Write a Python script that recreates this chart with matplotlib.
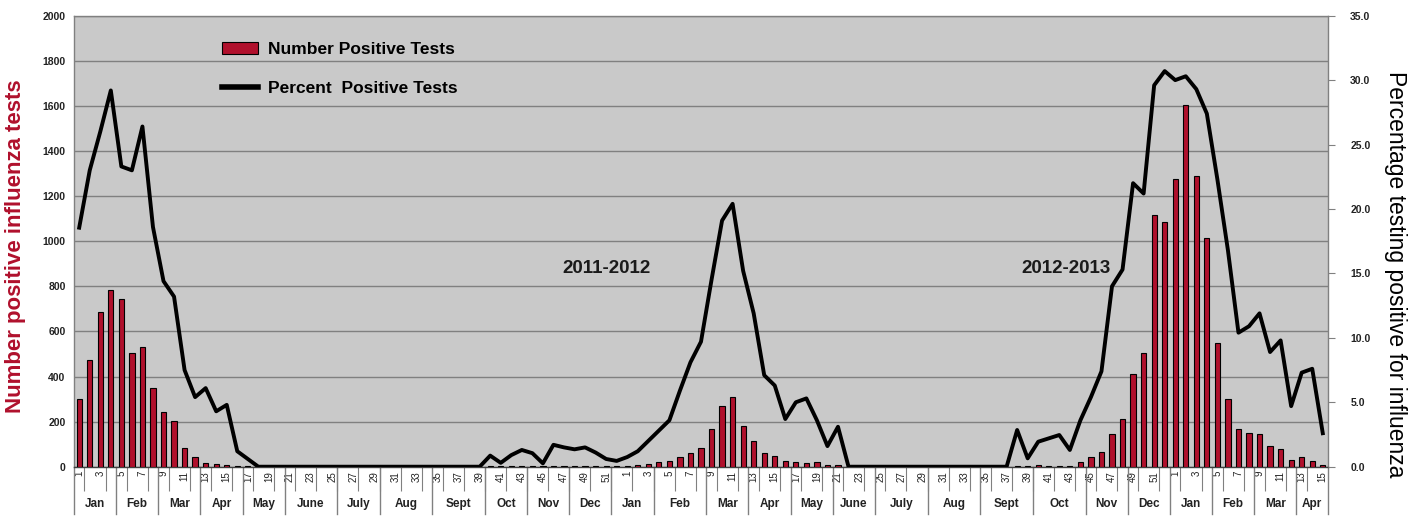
import numpy as np
import matplotlib
matplotlib.use("Agg")
import matplotlib.pyplot as plt
from matplotlib.patches import Patch
from matplotlib.lines import Line2D
import matplotlib.transforms as mtransforms

plt.rcParams['font.family'] = ['Liberation Sans', 'DejaVu Sans']

# ---------------- data ----------------
# week numbers: 2011 wk1-52, 2012 wk1-52, 2013 wk1-15
weeks = list(range(1, 53)) + list(range(1, 53)) + list(range(1, 16))

counts_2011 = [300, 473, 688, 784, 744, 506, 530, 348, 241, 203, 82, 44, 15, 10, 8, 5, 3] \
    + [0] * 22 \
    + [3, 2, 3, 4, 3, 2, 4, 5, 4, 5, 4, 3, 5]
counts_2012 = [5, 6, 10] \
    + [23, 24, 44, 59, 82, 167, 267, 308, 179, 116, 59, 49, 27, 19, 15, 19, 9, 9] \
    + [0] * 16 \
    + [3, 4, 6, 5, 4, 3] \
    + [19, 42, 67, 145, 212, 411, 503, 1117, 1083]
counts_2013 = [1275, 1605, 1287, 1016, 550, 299, 167, 151, 145, 93, 77, 30, 42, 27, 8]
counts = counts_2011 + counts_2012 + counts_2013

pct_2011 = [18.55, 23.0, 26.0, 29.2, 23.3, 23.0, 26.4, 18.6, 14.4, 13.2, 7.5, 5.4, 6.1, 4.3, 4.8, 1.2, 0.6] \
    + [0.0] * 22 \
    + [0.86, 0.3, 0.9, 1.3, 1.05, 0.26, 1.7, 1.5, 1.35, 1.5, 1.1, 0.6, 0.45]
pct_2012 = [0.75, 1.2, 2.0, 2.8, 3.6, 5.9, 8.1, 9.7, 14.5, 19.1, 20.4, 15.2, 11.9, 7.1, 6.3, 3.7,
            5.0, 5.3, 3.6, 1.6, 3.1] \
    + [0.0] * 16 \
    + [2.85, 0.65, 1.94, 2.2, 2.46, 1.3, 3.6, 5.4, 7.4, 14.0, 15.3, 22.0, 21.2, 29.6, 30.7]
pct_2013 = [30.0, 30.3, 29.3, 27.4, 22.3, 16.8, 10.4, 10.9, 11.9, 8.9, 9.8, 4.7, 7.3, 7.6, 2.6]
pct = pct_2011 + pct_2012 + pct_2013

months = ['Jan', 'Feb', 'Mar', 'Apr', 'May', 'June', 'July', 'Aug', 'Sept', 'Oct', 'Nov', 'Dec',
          'Jan', 'Feb', 'Mar', 'Apr', 'May', 'June', 'July', 'Aug', 'Sept', 'Oct', 'Nov', 'Dec',
          'Jan', 'Feb', 'Mar', 'Apr']
month_weeks = [4, 4, 4, 4, 4, 5, 4, 5, 5, 4, 4, 4,
               4, 5, 4, 4, 4, 4, 5, 5, 5, 5, 4, 4,
               4, 4, 4, 3]

season_labels = ['2011-2012', '2012-2013']
season_pos = [(50.0, 880), (93.6, 880)]

left_ticks = list(range(0, 2001, 200))
right_ticks = [0, 5, 10, 15, 20, 25, 30, 35]

# ---------------- figure ----------------
BG = '#c9c9c9'
GRID = '#808080'
RED = '#b0102c'

fig = plt.figure(figsize=(14.19, 5.21), dpi=100)
ax = fig.add_axes([0.0521, 0.1042, 0.8838, 0.8657])
ax.set_facecolor(BG)

n = len(counts)
x = np.arange(n)
ax.bar(x, counts, width=0.5, color=RED, edgecolor='black', linewidth=0.8, zorder=3)
ax.set_xlim(-0.5, n - 0.5)
ax.set_ylim(0, 2000)
ax.set_yticks(left_ticks)
ax.set_yticklabels([str(v) for v in left_ticks], fontsize=7.5, fontweight='bold', color='#222222')
ax.yaxis.grid(True, color=GRID, linewidth=1.0, zorder=1)
ax.set_axisbelow(True)
ax.tick_params(axis='y', length=0, pad=6)

for sp in ax.spines.values():
    sp.set_color(GRID)
    sp.set_linewidth(1.0)
ax.spines['bottom'].set_color('#404040')

# x tick labels (odd week numbers)
ax.set_xticks(x[::2])
ax.set_xticklabels([str(weeks[i]) for i in x[::2]], rotation=90, fontsize=7, color='#222222')
ax.tick_params(axis='x', which='major', length=0, pad=3)
ax.set_xticks(np.arange(0.5, n - 0.5, 2), minor=True)
ax.tick_params(axis='x', which='minor', length=17, width=0.8, color=GRID)

# month labels & separators
trans = mtransforms.blended_transform_factory(ax.transData, ax.transAxes)
start = -0.5
bounds = [start]
for mw in month_weeks:
    bounds.append(bounds[-1] + mw)
for i, m in enumerate(months):
    a, b = bounds[i], bounds[i + 1]
    ax.text((a + b) / 2, -0.082, m, transform=trans, ha='center', va='center',
            fontsize=8.5, fontweight='bold', color='#222222')
for bnd in bounds:
    ax.plot([bnd, bnd], [0, -0.105], transform=trans, color=GRID, lw=1.0, clip_on=False)

ax.set_ylabel('Number positive influenza tests', color=RED, fontsize=16, fontweight='bold')
ax.yaxis.set_label_coords(-0.0383, 0.489)

# percent line
ax2 = ax.twinx()
ax2.plot(x, pct, color='black', lw=2.8, solid_joinstyle='round', zorder=5)
ax2.set_ylim(0, 35)
ax2.set_yticks(right_ticks)
ax2.set_yticklabels(['%.1f' % v for v in right_ticks], fontsize=7.5, fontweight='bold', color='#222222')
ax2.tick_params(axis='y', length=5, pad=11, color=GRID)
for sp in ax2.spines.values():
    sp.set_visible(False)
ax2.set_ylabel('Percentage testing positive for influenza', fontsize=16.5, rotation=270,
               va='bottom', color='black')
ax2.yaxis.set_label_coords(1.0447, 0.427)

# season annotations
for lab, (px, py) in zip(season_labels, season_pos):
    ax.text(px, py, lab, ha='center', va='center', fontsize=13.5, fontweight='bold', color='#1a1a1a',
            zorder=6)

# legend
handles = [Patch(facecolor=RED, edgecolor='black', linewidth=0.8),
           Line2D([0], [0], color='black', lw=4)]
leg = ax2.legend(handles, ['Number Positive Tests', 'Percent  Positive Tests'],
                 loc='upper left', bbox_to_anchor=(0.118, 0.942), frameon=False,
                 prop={'size': 12.5, 'weight': 'bold'}, handlelength=2.07, handleheight=0.65,
                 handletextpad=0.57, labelspacing=1.4, borderpad=0, borderaxespad=0)

fig.savefig('out.png', dpi=100, facecolor='white')
